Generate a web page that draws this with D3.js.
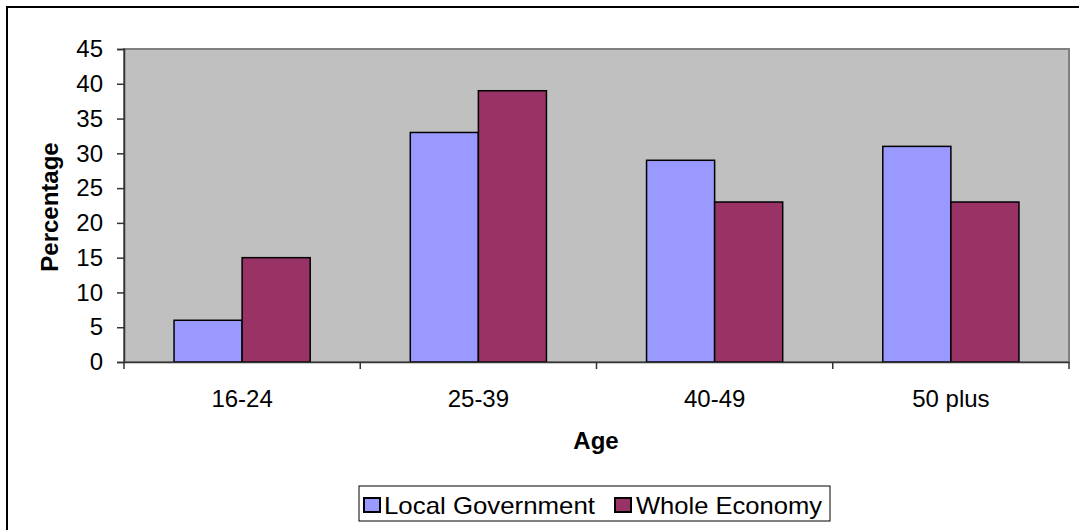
<!DOCTYPE html>
<html><head><meta charset="utf-8">
<script src="https://cdn.jsdelivr.net/npm/d3@7"></script>
<style>body{margin:0;background:#fff;} text{font-family:"Liberation Sans",Arial,sans-serif;}</style>
</head><body><svg id="c" width="1079" height="530"></svg>
<script>
const categories = ["16-24","25-39","40-49","50 plus"];
const seriesNames = ["Local Government","Whole Economy"];
const localGov = [6,33,29,31];
const wholeEconomy = [15,39,23,23];
const yTicks = [0,5,10,15,20,25,30,35,40,45];
const colors = ["#9999FF","#993366"];

const svg = d3.select("#c");
const FONT = "Liberation Sans, Arial, sans-serif";
const L=124, R=1069, T=49, B=362;
// outer border
svg.append("path").attr("d","M7,530 V7 H1079").attr("fill","none").attr("stroke","#000").attr("stroke-width",2);

const x = d3.scaleBand().domain(categories).range([L,R]).paddingInner(0.4237).paddingOuter(0.2118);
const xs = d3.scaleBand().domain(seriesNames).range([0,x.bandwidth()]);
const y = d3.scaleLinear().domain([0,45]).range([B,T]);

svg.append("rect").attr("x",L).attr("y",T).attr("width",R-L).attr("height",B-T).attr("fill","#C0C0C0").attr("stroke","#808080").attr("stroke-width",2);

const data = categories.map((c,i)=>({c, vals:[localGov[i],wholeEconomy[i]]}));
const g = svg.append("g");
data.forEach(d=>{
  d.vals.forEach((v,j)=>{
    g.append("rect").attr("x",x(d.c)+xs(seriesNames[j])).attr("y",y(v))
     .attr("width",xs.bandwidth()).attr("height",y(0)-y(v))
     .attr("fill",colors[j]).attr("stroke","#000").attr("stroke-width",1.5);
  });
});

// y axis
const ya = svg.append("g").attr("transform",`translate(${L},0)`)
  .call(d3.axisLeft(y).tickValues(yTicks).tickSize(7).tickPadding(14));
ya.select(".domain").attr("stroke","#333").attr("stroke-width",1.5);
ya.selectAll(".tick line").attr("stroke","#333").attr("stroke-width",1.5);
ya.selectAll("text").attr("font-size",24).attr("fill","#000").attr("font-family",FONT);

// x axis
const xa = svg.append("g").attr("transform",`translate(0,${B})`)
  .call(d3.axisBottom(x).tickSize(0));
xa.select(".domain").attr("stroke","#333").attr("stroke-width",1.5);
xa.selectAll("text").attr("font-size",24).attr("fill","#000").attr("font-family",FONT).attr("y",45).attr("dy",0);
const bounds = [L, ...categories.map(c=>x(c)+x.bandwidth()+x.step()*x.paddingInner()/2)];
bounds[bounds.length-1]=R;
svg.append("g").selectAll("line").data(bounds).join("line")
  .attr("x1",d=>d).attr("x2",d=>d).attr("y1",B).attr("y2",B+7).attr("stroke","#333").attr("stroke-width",1.5);

svg.append("text").attr("x",596).attr("y",449).attr("text-anchor","middle").attr("font-size",24).attr("font-weight","bold").text("Age");
svg.append("text").attr("transform",`translate(58,207) rotate(-90)`).attr("text-anchor","middle").attr("font-size",24).attr("font-weight","bold").text("Percentage");

// legend
const lg = svg.append("g");
lg.append("rect").attr("x",359).attr("y",486).attr("width",471).attr("height",35).attr("fill","#fff").attr("stroke","#000").attr("stroke-width",1);
const sqX = [364, 615], txX = [384, 636], txW = [211, 186];
seriesNames.forEach((n,i)=>{
  lg.append("rect").attr("x",sqX[i]).attr("y",498).attr("width",16).attr("height",14).attr("fill",colors[i]).attr("stroke","#000").attr("stroke-width",2);
  lg.append("text").attr("x",txX[i]).attr("y",514).attr("font-size",24)
    .attr("textLength",txW[i]).attr("lengthAdjust","spacingAndGlyphs").text(n);
});
</script></body></html>
